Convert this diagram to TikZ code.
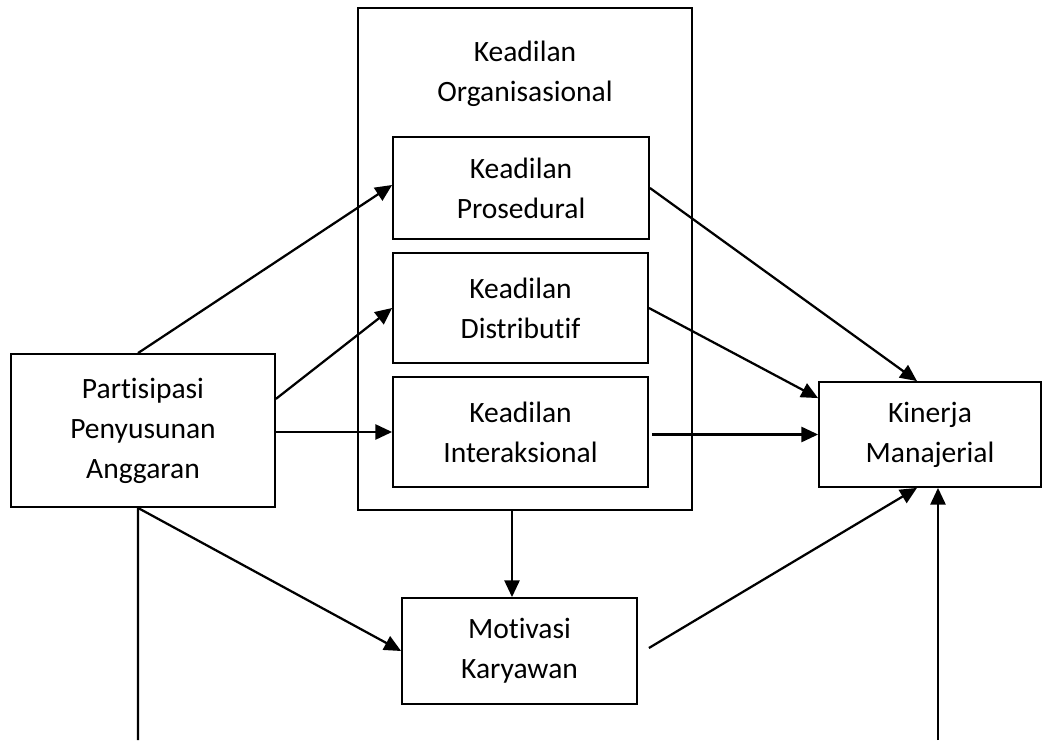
\documentclass[tikz,border=0pt]{standalone}
\usepackage{fontspec}
\setmainfont{Carlito}[Ligatures=NoCommon]
\usepackage{tikz}
\usetikzlibrary{positioning,calc}
\usetikzlibrary{arrows.meta}
\tikzset{
  box/.style={draw=black,line width=1.3pt,fill=white,align=center,inner sep=0pt,
    font=\fontsize{21}{28.5}\selectfont},
  outer/.style={draw=black,line width=1.3pt,inner sep=0pt},
  link/.style={draw=black,line width=1.6pt,-{Triangle[length=0.42cm,width=0.38cm]}},
  plain/.style={draw=black,line width=1.6pt},
}

\begin{document}
\begin{tikzpicture}
\useasboundingbox (0,0) rectangle (26.05,18.5);
\node[outer,minimum width=8.35cm,minimum height=12.55cm] (org) at (13.125,12.025) {};
\node[align=center,font=\fontsize{21}{28.5}\selectfont] (orgtitle) at (13.125,16.65) {Keadilan\\Organisasional};
\node[box,minimum width=6.4cm,minimum height=2.55cm] (pros) at (13.025,13.8) {Keadilan\\Prosedural};
\node[box,minimum width=6.375cm,minimum height=2.75cm] (dist) at (13.0125,10.8) {Keadilan\\Distributif};
\node[box,minimum width=6.375cm,minimum height=2.75cm] (inter) at (13.0125,7.7) {Keadilan\\Interaksional};
\node[box,minimum width=6.6cm,minimum height=3.825cm] (part) at (3.575,7.7375) {Partisipasi\\Penyusunan\\Anggaran};
\node[box,minimum width=5.875cm,minimum height=2.65cm] (mot) at (12.9875,2.225) {Motivasi\\Karyawan};
\node[box,minimum width=5.55cm,minimum height=2.625cm] (kin) at (23.25,7.6375) {Kinerja\\Manajerial};
\coordinate (partfoot) at (3.45,0);
\coordinate (kinfoot) at (23.45,0);
% from Partisipasi
\draw[link] ([xshift=-0.125cm]part.north) -- ([yshift=0.075cm]pros.west);
\draw[link] ([yshift=0.79cm]part.east) -- (dist.west);
\draw[link] (part.east |- inter.west) -- (inter.west);
\draw[link] ([xshift=-0.125cm]part.south) -- (mot.west);
\draw[plain] ([xshift=-0.125cm]part.south) -- (partfoot);
% into Kinerja
\draw[link] (pros.east) -- ([xshift=-0.325cm]kin.north);
\draw[link] (dist.east) -- ([yshift=0.91cm]kin.west);
\draw[link] ($(inter.east |- kin.west)+(0.075,0)$) -- (kin.west);
\draw[link] ($(org.south)+(-0.325,0)$) -- ($(mot.north)+(-0.1875,0)$);
\draw[link] ([shift={(0.275,0.075)}]mot.east) -- ([xshift=-0.325cm]kin.south);
\draw[link] (kinfoot) -- ([xshift=0.2cm]kin.south);
\end{tikzpicture}
\end{document}
